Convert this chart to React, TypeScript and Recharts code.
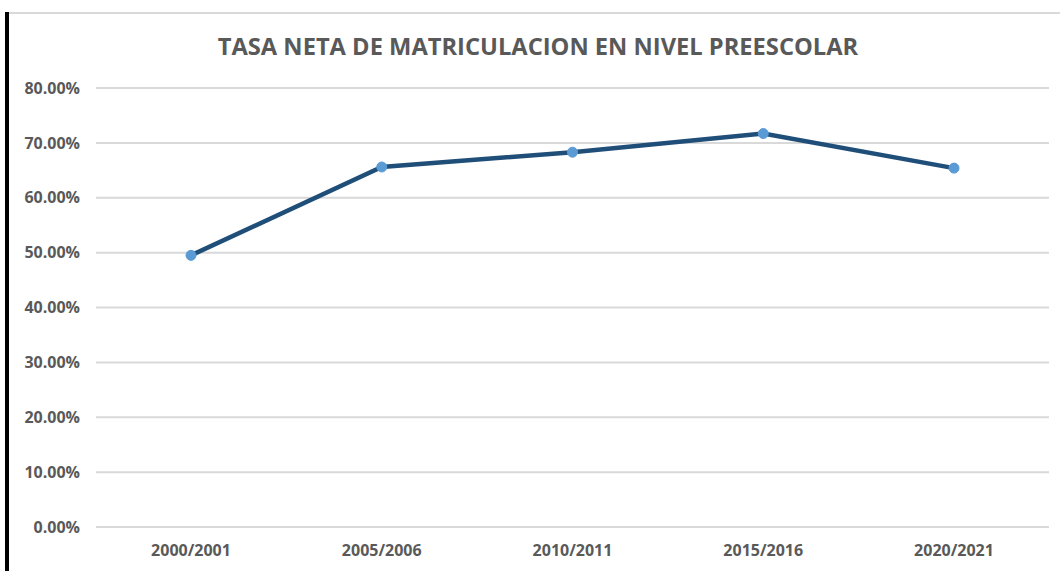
import React from 'react';
import { LineChart, Line, XAxis, YAxis, CartesianGrid } from 'recharts';

const periods = ['2000/2001', '2005/2006', '2010/2011', '2015/2016', '2020/2021'];
const tasaNeta = [0.495, 0.656, 0.683, 0.717, 0.654];
const yTicks = [0, 0.1, 0.2, 0.3, 0.4, 0.5, 0.6, 0.7, 0.8];

const chartData = periods.map((periodo, i) => ({ periodo, tasa: tasaNeta[i] }));

const FONT = '"Open Sans", "Liberation Sans", sans-serif';
const GRAY = '#595959';

const App: React.FC = () => {
  return (
    <div style={{ position: 'absolute', left: 0, top: 0, width: 1060, height: 571, background: '#fff' }}>
      {/* frame edges from the screenshot */}
      <div style={{ position: 'absolute', left: 7, top: 12, right: 0, height: 2, background: '#d9d9d9' }} />
      <div style={{ position: 'absolute', left: 5, top: 12, bottom: 0, width: 4, background: '#000' }} />
      <div
        style={{
          position: 'absolute',
          left: 0,
          top: 30,
          width: 1076,
          textAlign: 'center',
          fontFamily: FONT,
          fontWeight: 700,
          fontSize: 23.7,
          color: GRAY,
        }}
      >
        TASA NETA DE MATRICULACION EN NIVEL PREESCOLAR
      </div>
      <LineChart
        width={1060}
        height={571}
        data={chartData}
        margin={{ top: 88, right: 11, bottom: 0, left: 0 }}
        style={{ position: 'absolute', left: 0, top: 0 }}
      >
        <CartesianGrid vertical={false} stroke="#d9d9d9" strokeWidth={2} />
        <XAxis
          dataKey="periodo"
          height={44}
          padding={{ left: 95, right: 95 }}
          tickLine={false}
          axisLine={false}
          tickMargin={12}
          interval={0}
          tick={{ fill: GRAY, fontFamily: FONT, fontWeight: 700, fontSize: 16 }}
        />
        <YAxis
          width={96}
          domain={[0, 0.8]}
          ticks={yTicks}
          tickLine={false}
          axisLine={false}
          tickMargin={10}
          tickFormatter={(v: number) => `${(v * 100).toFixed(2)}%`}
          tick={{ fill: GRAY, fontFamily: FONT, fontWeight: 700, fontSize: 16 }}
        />
        <Line
          type="linear"
          dataKey="tasa"
          stroke="#1f4e79"
          strokeWidth={4.5}
          dot={{ r: 5, fill: '#5b9bd5', stroke: '#5b9bd5', strokeWidth: 1 }}
          isAnimationActive={false}
        />
      </LineChart>
    </div>
  );
};

export default App;
